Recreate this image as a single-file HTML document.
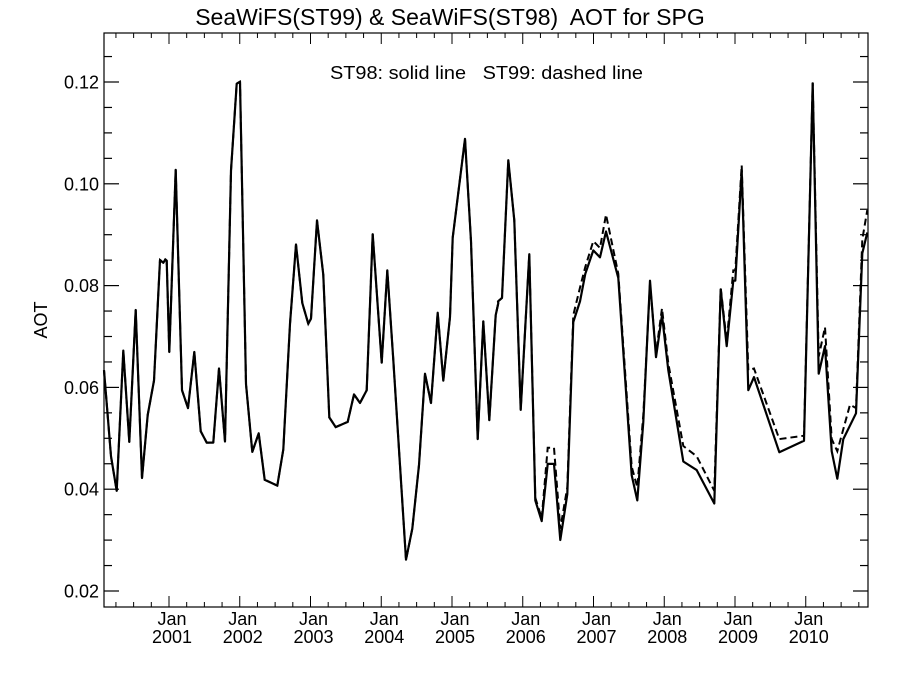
<!DOCTYPE html>
<html><head><meta charset="utf-8"><style>
body{margin:0;background:#fff;}
svg text{font-family:"Liberation Sans",sans-serif;fill:#000;}
</style></head><body>
<svg id="s" width="900" height="675" xmlns="http://www.w3.org/2000/svg">
<text x="450" y="25" font-size="23" text-anchor="middle" xml:space="preserve">SeaWiFS(ST99) &amp; SeaWiFS(ST98)  AOT for SPG</text>
<text x="330" y="79" font-size="18" textLength="313" lengthAdjust="spacingAndGlyphs" xml:space="preserve">ST98: solid line   ST99: dashed line</text>
<text transform="translate(47,320) rotate(-90)" font-size="18" text-anchor="middle">AOT</text>
<rect x="104" y="33" width="764" height="574" fill="none" stroke="#000" stroke-width="1.2"/>
<g id="ax"></g>
</svg>
<script>
const ns="http://www.w3.org/2000/svg",ax=document.getElementById('ax');
function el(t,a,txt){const e=document.createElementNS(ns,t);for(const k in a)e.setAttribute(k,a[k]);if(txt)e.textContent=txt;ax.appendChild(e);return e;}
const Y=v=>591-(v-0.02)*5090;
for(let i=0;i<=22;i++){const v=0.015+i*0.005;const y=Y(v);if(y<33||y>607)continue;
 const maj=Math.abs(((v*1000)%20))<0.01||Math.abs(((v*1000)%20)-20)<0.01;const L=maj?15:8;
 el('line',{x1:104,x2:104+L,y1:y,y2:y,stroke:'#000','stroke-width':1.2});
 el('line',{x1:868-L,x2:868,y1:y,y2:y,stroke:'#000','stroke-width':1.2});
 if(maj) el('text',{x:99,y:y+6.5,'font-size':18,'text-anchor':'end'},v.toFixed(2));}
const X0=169,PY=70.75;
for(let m=-12;m<=12*10+3;m+=3){const x=X0+m*PY/12;if(x<104||x>868)continue;const maj=m%12==0;const L=maj?11:5;
 el('line',{x1:x,x2:x,y1:607,y2:607-L,stroke:'#000','stroke-width':1});
 el('line',{x1:x,x2:x,y1:33,y2:33+L,stroke:'#000','stroke-width':1});
 if(maj&&m>=0){el('text',{x:x+3,y:625,'font-size':18,'text-anchor':'middle'},'Jan');
 el('text',{x:x+3,y:643,'font-size':18,'text-anchor':'middle'},String(2001+m/12));}}
function conv(ox,pts){return pts.map(p=>{const x=ox+p[0]/3;const v=0.12-(p[1]-63)/14780;return x.toFixed(1)+','+Y(v).toFixed(1);});}
const A=[[12,900],[33,1150],[50,1250],[70,843],[88,1108],[107,725],[126,1213],[143,1030],[162,930],[180,580],[190,588],[196,578],[200,582],[208,847],[227,318],[246,958],[264,1010],[283,847],[302,1077],[320,1110],[340,1110],[357,895],[375,1107],[393,320],[410,68],[420,62],[438,940],[457,1137],[476,1083],[494,1218],[532,1235],[550,1130],[570,765],[588,535],[607,705],[625,765],[633,750],[651,465],[670,623],[688,1037],[707,1065],[743,1050],[762,970],[780,995],[800,958],[818,505],[845,878],[862,610],[880,870],[918,1450],[937,1360],[957,1175],[975,910],[993,995],[1013,733],[1030,930],[1050,745],[1058,515],[1095,228],[1113,525],[1133,1100],[1150,758],[1168,1045],[1187,740],[1195,705]];
const B=[[54,700],[66,690],[85,290],[103,465],[122,1015],[148,563],[166,1278],[185,1338],[203,1172],[222,1172],[241,1393],[262,1260],[280,760],[300,700],[316,620],[340,552],[360,572],[378,497],[415,632],[455,1205],[472,1278],[490,1050],[510,640],[528,862],[546,740],[565,900],[610,1165],[650,1190],[703,1287],[722,665],[740,830],[760,640],[766,640],[785,320],[805,958],[822,920],[898,1138],[972,1105],[998,67],[1016,910],[1035,830],[1055,1135],[1072,1215],[1090,1100],[1128,1025],[1147,560],[1162,500]];
const D=[[54,700],[66,690],[85,290],[103,465],[122,1015],[148,563],[166,1270],[185,1330],[203,1125],[222,1125],[241,1360],[262,1240],[280,740],[300,660],[316,600],[340,525],[360,545],[378,448],[415,620],[455,1180],[472,1240],[490,1030],[510,650],[528,850],[546,720],[565,880],[610,1120],[650,1150],[703,1250],[722,660],[740,815],[760,610],[766,610],[785,305],[805,900],[822,895],[898,1100],[972,1090],[998,65],[1016,860],[1035,775],[1055,1100],[1072,1135],[1110,1000],[1128,1010],[1147,520],[1162,435]];
const solid=conv(100,A).concat(conv(480,B));
el('polyline',{points:solid.join(' '),fill:'none',stroke:'#000','stroke-width':2.2,'stroke-linejoin':'round'});
const dash=conv(100,A).concat(conv(480,D));
el('polyline',{points:dash.join(' '),fill:'none',stroke:'#000','stroke-width':2,'stroke-dasharray':'7,4'});
</script>
</body></html>
